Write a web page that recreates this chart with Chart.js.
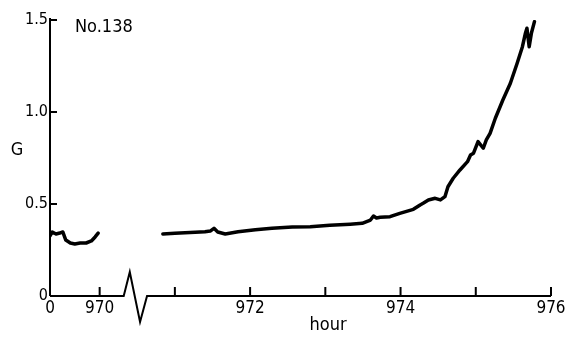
<!DOCTYPE html>
<html>
<head>
<meta charset="utf-8">
<script src="https://cdn.jsdelivr.net/npm/chart.js@4"></script>
<style>
  body { margin: 0; background: #fff; }
  #wrap { width: 576px; height: 338px; position: relative; }
</style>
</head>
<body>
<div id="wrap"><canvas id="gChart"></canvas></div>
<script>
// short run at the start of the record (left of the axis break)
const leftHours = [969.34, 969.37, 969.42, 969.47, 969.51, 969.55, 969.61, 969.67, 969.74, 969.82, 969.89, 969.94, 969.98];
const leftG     = [0.326, 0.348, 0.337, 0.342, 0.348, 0.304, 0.288, 0.283, 0.288, 0.288, 0.299, 0.321, 0.342];

// main run, 970.8 h to the end of the test
const mainHours = [970.84, 971.00, 971.27, 971.40, 971.47, 971.52, 971.57, 971.67, 971.84, 972.07,
                   972.29, 972.56, 972.80, 973.06, 973.33, 973.49, 973.60, 973.64, 973.68, 973.73,
                   973.86, 973.99, 974.17, 974.26, 974.30, 974.37, 974.46, 974.53, 974.59, 974.63,
                   974.70, 974.79, 974.89, 974.93, 974.97, 975.03, 975.10, 975.14, 975.19, 975.26,
                   975.36, 975.46, 975.55, 975.62, 975.66, 975.68, 975.71, 975.74, 975.78];
const mainG     = [0.337, 0.341, 0.346, 0.349, 0.353, 0.368, 0.348, 0.337, 0.349, 0.360,
                   0.368, 0.375, 0.377, 0.384, 0.390, 0.395, 0.413, 0.435, 0.424, 0.428,
                   0.431, 0.449, 0.471, 0.495, 0.504, 0.522, 0.531, 0.522, 0.540, 0.594,
                   0.640, 0.685, 0.730, 0.766, 0.776, 0.839, 0.803, 0.848, 0.884, 0.966,
                   1.065, 1.156, 1.265, 1.355, 1.428, 1.455, 1.355, 1.429, 1.491];

const xTickValues = [969.34, 970, 971, 972, 973, 974, 975, 976];
const xTickLabels = ['0', '970', '', '972', '', '974', '', '976'];
const yTickValues = [0, 0.5, 1.0, 1.5];
const yTickLabels = ['0', '0.5', '1.0', '1.5'];

const specimen = 'No.138';
const xTitle = 'hour';
const yTitle = 'G';

// axis is broken between these two hours
const breakFrom = 970.32;
const breakTo = 970.63;

const FONT = '"DejaVu Sans Condensed", "Liberation Sans Narrow", "DejaVu Sans", sans-serif';

function toPoints(xs, ys) {
  return xs.map((h, i) => ({ x: h, y: ys[i] }));
}

// hand-drawn style axes: inward ticks and a zigzag break on the time axis
const paperAxes = {
  id: 'paperAxes',
  afterDraw(chart) {
    const { ctx, chartArea: { left, right, top, bottom }, scales: { x, y } } = chart;
    ctx.save();
    ctx.strokeStyle = '#000';
    ctx.lineWidth = 2;
    ctx.lineJoin = 'miter';
    ctx.beginPath();
    ctx.moveTo(left, top - 2);
    ctx.lineTo(left, bottom);
    yTickValues.forEach(v => {
      if (v <= 0) return;
      const py = y.getPixelForValue(v);
      ctx.moveTo(left, py);
      ctx.lineTo(left + 7, py);
    });

    const b0 = x.getPixelForValue(breakFrom);
    const b1 = x.getPixelForValue(breakTo);
    const w = b1 - b0;
    ctx.moveTo(left, bottom);
    ctx.lineTo(b0, bottom);
    ctx.lineTo(b0 + w * 0.26, bottom - 24);
    ctx.lineTo(b0 + w * 0.70, bottom + 26);
    ctx.lineTo(b1, bottom);
    ctx.lineTo(right, bottom);
    xTickValues.forEach(v => {
      if (v < 970) return;
      const px = x.getPixelForValue(v);
      ctx.moveTo(px, bottom);
      ctx.lineTo(px, bottom - 9);
    });
    ctx.stroke();

    ctx.fillStyle = '#000';
    ctx.font = '18px ' + FONT;
    ctx.textBaseline = 'middle';
    ctx.textAlign = 'left';
    ctx.fillText(specimen, 75, 27);
    ctx.textAlign = 'center';
    ctx.fillText(yTitle, 17, 150);
    ctx.fillText(xTitle, 328, 325);
    ctx.restore();
  }
};

new Chart(document.getElementById('gChart'), {
  type: 'line',
  data: {
    datasets: [
      {
        data: toPoints(leftHours, leftG),
        borderColor: '#000',
        borderWidth: 3.5,
        pointRadius: 0,
        tension: 0,
        borderJoinStyle: 'round',
        borderCapStyle: 'round'
      },
      {
        data: toPoints(mainHours, mainG),
        borderColor: '#000',
        borderWidth: 3.5,
        pointRadius: 0,
        tension: 0,
        borderJoinStyle: 'round',
        borderCapStyle: 'round'
      }
    ]
  },
  options: {
    responsive: true,
    maintainAspectRatio: false,
    animation: false,
    layout: { padding: { top: 20, right: 25, bottom: 0, left: 0 } },
    plugins: {
      legend: { display: false },
      tooltip: { enabled: false }
    },
    scales: {
      x: {
        type: 'linear',
        min: 969.34,
        max: 976,
        grid: { display: false, drawTicks: false },
        border: { display: false },
        afterBuildTicks: scale => {
          scale.ticks = xTickValues.map(v => ({ value: v }));
        },
        afterFit: scale => { scale.height = 42; },
        ticks: {
          autoSkip: false,
          maxRotation: 0,
          padding: 2,
          color: '#000',
          font: { family: FONT, size: 17 },
          callback: (value, i) => xTickLabels[i]
        }
      },
      y: {
        min: 0,
        max: 1.5,
        grid: { display: false, drawTicks: false },
        border: { display: false },
        afterBuildTicks: scale => {
          scale.ticks = yTickValues.map(v => ({ value: v }));
        },
        afterFit: scale => { scale.width = 50; },
        ticks: {
          padding: 2,
          color: '#000',
          font: { family: FONT, size: 16 },
          callback: (value, i) => yTickLabels[i]
        }
      }
    }
  },
  plugins: [paperAxes]
});
</script>
</body>
</html>
